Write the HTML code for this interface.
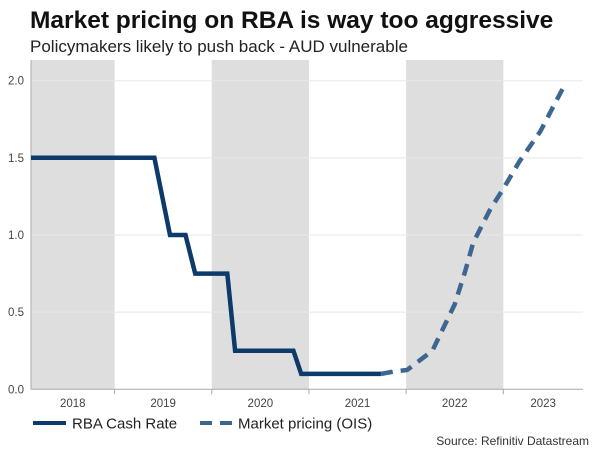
<!DOCTYPE html>
<html><head><meta charset="utf-8"><style>
body{margin:0;background:#fff;font-family:"Liberation Sans",Arial,sans-serif}
svg text{font-family:"Liberation Sans",Arial,sans-serif}
</style></head><body>
<svg id="chart" width="600" height="450" viewBox="0 0 600 450">
<text x="30" y="28" font-size="24.5" font-weight="bold" fill="#111">Market pricing on RBA is way too aggressive</text>
<text x="30" y="52" font-size="17" fill="#222">Policymakers likely to push back - AUD vulnerable</text>
<g id="shade"></g><g id="grid"></g><g id="axes"></g><g id="series"></g>
<g>
<g><line x1="33" y1="423" x2="66" y2="423" stroke="#0b3a6b" stroke-width="4"/><text x="72" y="428.5" font-size="15" fill="#222">RBA Cash Rate</text></g>
<g><line x1="200" y1="423" x2="232" y2="423" stroke="#3d6690" stroke-width="4" stroke-dasharray="12,8"/><text x="238" y="428.5" font-size="15" fill="#222">Market pricing (OIS)</text></g>
</g>
<text x="589" y="445" font-size="12" fill="#333" text-anchor="end">Source: Refinitiv Datastream</text>
</svg>
<script>
const yTicks=[0,0.5,1.0,1.5,2.0];
const yearLabels=[2018,2019,2020,2021,2022,2023];
const shadedYears=[2018,2020,2022];
const rbaDates=[2018.14,2019.41,2019.49,2019.57,2019.73,2019.83,2020.16,2020.24,2020.84,2020.92,2021.74];
const rbaValues=[1.5,1.5,1.25,1.0,1.0,0.75,0.75,0.25,0.25,0.1,0.1];
const oisDates=[2021.74,2021.87,2022.01,2022.27,2022.40,2022.50,2022.61,2022.69,2022.86,2023.00,2023.17,2023.38,2023.62];
const oisValues=[0.1,0.115,0.125,0.25,0.42,0.55,0.77,0.95,1.16,1.30,1.48,1.67,1.96];
const X0=2018.14,X1=2023.82,PX0=31,PX1=583,Y0=0,Y1=2,PY0=389.3,PY1=80.7;
const PT=60;
const sx=v=>PX0+(v-X0)/(X1-X0)*(PX1-PX0);
const sy=v=>PY0+(v-Y0)/(Y1-Y0)*(PY1-PY0);
const NS="http://www.w3.org/2000/svg";
function mk(tag,attrs,parent){const e=document.createElementNS(NS,tag);for(const k in attrs)e.setAttribute(k,attrs[k]);document.getElementById(parent).appendChild(e);return e;}
shadedYears.forEach(y=>{const a=Math.max(sx(y),PX0),b=Math.min(sx(y+1),PX1);
const r=mk('rect',{x:a,y:PT,width:b-a,height:PY0-PT,fill:'#dedede'},'shade');

});
yTicks.forEach(t=>{if(t>0){const g=mk('line',{x1:PX0,x2:PX1,y1:sy(t),y2:sy(t),stroke:'#e8e8e8','stroke-width':1},'grid');

}
const l=mk('text',{x:24,y:sy(t)+4,'font-size':11.5,fill:'#444','text-anchor':'end'},'axes');l.textContent=t.toFixed(1);

});
const ya=mk('line',{x1:PX0,x2:PX0,y1:PT,y2:PY0,stroke:'#aaa','stroke-width':1},'axes');


const xa=mk('line',{x1:PX0,x2:PX1,y1:PY0,y2:PY0,stroke:'#aaa','stroke-width':1},'axes');


yearLabels.forEach(y=>{if(y>2018){const tk=mk('line',{x1:sx(y),x2:sx(y),y1:PY0,y2:PY0+5,stroke:'#aaa'},'axes');

}
const c=(Math.max(sx(y),PX0)+Math.min(sx(y+1),PX1))/2;
const l=mk('text',{x:c,y:407,'font-size':11.5,fill:'#444','text-anchor':'middle'},'axes');l.textContent=y;

});
const pts=(d,v)=>d.map((x,i)=>sx(x).toFixed(1)+','+sy(v[i]).toFixed(1)).join(' ');
const o=mk('polyline',{points:pts(oisDates,oisValues),fill:'none',stroke:'#3d6690','stroke-width':4.5,'stroke-dasharray':'12,8'},'series');


const r=mk('polyline',{points:pts(rbaDates,rbaValues),fill:'none',stroke:'#0b3a6b','stroke-width':4.5,'stroke-linejoin':'miter'},'series');


</script>
</body></html>
